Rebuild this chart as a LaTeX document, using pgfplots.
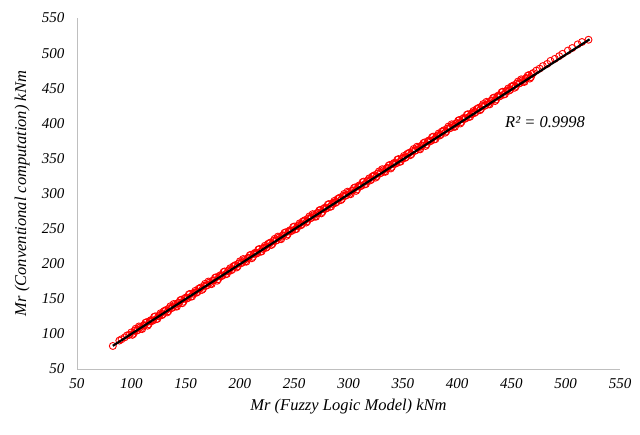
\documentclass[border=0pt]{standalone}
\usepackage{pgfplots}
\pgfplotsset{compat=1.18}
\usepackage{fontspec}
\setmainfont{Liberation Serif}
\definecolor{axgray}{HTML}{BFBFBF}
\begin{document}
\begin{tikzpicture}
\path[use as bounding box] (-77pt,-66pt) rectangle (563pt,369pt);
\begin{axis}[
  scale only axis, width=543pt, height=351pt,
  at={(0pt,0pt)}, anchor=south west,
  xmin=50, xmax=550, ymin=50, ymax=550,
  xtick={50,100,...,550}, ytick={50,100,...,550},
  axis x line*=bottom, axis y line*=left,
  axis line style={axgray, line width=0.8pt},
  major tick length=0pt,
  tick label style={font=\fontsize{15}{18}\selectfont\itshape},
  /pgf/number format/assume math mode=true,
  xticklabel style={yshift=-6pt},
  yticklabel style={xshift=-9pt},
  xlabel={Mr (Fuzzy Logic Model) kNm},
  ylabel={Mr (Conventional computation) kNm},
  label style={font=\fontsize{16.5}{19}\selectfont\itshape},
  xlabel style={at={(axis description cs:0.5,-0.108)}, anchor=center},
  ylabel style={at={(axis description cs:-0.101,0.5)}, anchor=center, rotate=0},
  clip=false,
  clip marker paths=true,
]
\addplot[only marks, mark=o, mark size=3.5pt, mark options={red, line width=0.9pt}] coordinates {
(83,82.8) (89,90.5) (91,92.4) (94,95.1) (96,97.8) (98,98.6)
(100,102.1) (102,100.2) (104,107.4) (106,105.4) (108,109.2) (110,106.9) (112,112.4) (114,116.7)
(116,113.8) (118,119.6) (120,119.1) (122,125.0) (124,121.4) (126,126.8) (128,126.6) (130,132.3)
(132,134.1) (134,132.2) (136,139.4) (138,137.4) (140,141.2) (142,138.9) (144,144.4) (146,148.7)
(148,145.8) (150,151.6) (152,151.1) (154,157.0) (156,153.4) (158,158.8) (160,158.6) (162,164.3)
(164,166.1) (166,164.2) (168,171.4) (170,169.4) (172,173.2) (174,170.9) (176,176.4) (178,180.7)
(180,177.8) (182,183.6) (184,183.1) (186,189.0) (188,185.4) (190,190.8) (192,190.6) (194,196.3)
(196,198.1) (198,196.2) (200,203.4) (202,201.4) (204,205.2) (206,202.9) (208,208.4) (210,212.7)
(212,209.8) (214,215.6) (216,215.1) (218,221.0) (220,217.4) (222,222.8) (224,222.6) (226,228.3)
(228,230.1) (230,228.2) (232,235.4) (234,233.4) (236,237.2) (238,234.9) (240,240.4) (242,244.7)
(244,241.8) (246,247.6) (248,247.1) (250,253.0) (252,249.4) (254,254.8) (256,254.6) (258,260.3)
(260,262.1) (262,260.2) (264,267.4) (266,265.4) (268,269.2) (270,266.9) (272,272.4) (274,276.7)
(276,273.8) (278,279.6) (280,279.1) (282,285.0) (284,281.4) (286,286.8) (288,286.6) (290,292.3)
(292,294.1) (294,292.2) (296,299.4) (298,297.4) (300,301.2) (302,298.9) (304,304.4) (306,308.7)
(308,305.8) (310,311.6) (312,311.1) (314,317.0) (316,313.4) (318,318.8) (320,318.6) (322,324.3)
(324,326.1) (326,324.2) (328,331.4) (330,329.4) (332,333.2) (334,330.9) (336,336.4) (338,340.7)
(340,337.8) (342,343.6) (344,343.1) (346,349.0) (348,345.4) (350,350.8) (352,350.6) (354,356.3)
(356,358.1) (358,356.2) (360,363.4) (362,361.4) (364,365.2) (366,362.9) (368,368.4) (370,372.7)
(372,369.8) (374,375.6) (376,375.1) (378,381.0) (380,377.4) (382,382.8) (384,382.6) (386,388.3)
(388,390.1) (390,388.2) (392,395.4) (394,393.4) (396,397.2) (398,394.9) (400,400.4) (402,404.7)
(404,401.8) (406,407.6) (408,407.1) (410,413.0) (412,409.4) (414,414.8) (416,414.6) (418,420.3)
(420,422.1) (422,420.2) (424,427.4) (426,425.4) (428,429.2) (430,426.9) (432,432.4) (434,436.7)
(436,433.8) (438,439.6) (440,439.1) (442,445.0) (444,441.4) (446,446.8) (448,446.6) (450,452.3)
(452,454.1) (454,452.2) (456,459.4) (458,457.4) (460,461.2) (462,458.9) (464,464.4) (466,468.7)
(468,465.8) (470,471.6)
(101,98.6) (103,104.5) (105,104.7) (107,110.6) (109,107.3) (111,111.9) (113,115.8) (115,111.7)
(117,118.1) (119,118.3) (121,124.2) (123,121.0) (125,125.2) (127,129.5) (129,127.8) (131,132.9)
(133,130.6) (135,136.5) (137,136.7) (139,142.6) (141,139.3) (143,143.9) (145,147.8) (147,143.7)
(149,150.1) (151,150.3) (153,156.2) (155,153.0) (157,157.2) (159,161.5) (161,159.8) (163,164.9)
(165,162.6) (167,168.5) (169,168.7) (171,174.6) (173,171.3) (175,175.9) (177,179.8) (179,175.7)
(181,182.1) (183,182.3) (185,188.2) (187,185.0) (189,189.2) (191,193.5) (193,191.8) (195,196.9)
(197,194.6) (199,200.5) (201,200.7) (203,206.6) (205,203.3) (207,207.9) (209,211.8) (211,207.7)
(213,214.1) (215,214.3) (217,220.2) (219,217.0) (221,221.2) (223,225.5) (225,223.8) (227,228.9)
(229,226.6) (231,232.5) (233,232.7) (235,238.6) (237,235.3) (239,239.9) (241,243.8) (243,239.7)
(245,246.1) (247,246.3) (249,252.2) (251,249.0) (253,253.2) (255,257.5) (257,255.8) (259,260.9)
(261,258.6) (263,264.5) (265,264.7) (267,270.6) (269,267.3) (271,271.9) (273,275.8) (275,271.7)
(277,278.1) (279,278.3) (281,284.2) (283,281.0) (285,285.2) (287,289.5) (289,287.8) (291,292.9)
(293,290.6) (295,296.5) (297,296.7) (299,302.6) (301,299.3) (303,303.9) (305,307.8) (307,303.7)
(309,310.1) (311,310.3) (313,316.2) (315,313.0) (317,317.2) (319,321.5) (321,319.8) (323,324.9)
(325,322.6) (327,328.5) (329,328.7) (331,334.6) (333,331.3) (335,335.9) (337,339.8) (339,335.7)
(341,342.1) (343,342.3) (345,348.2) (347,345.0) (349,349.2) (351,353.5) (353,351.8) (355,356.9)
(357,354.6) (359,360.5) (361,360.7) (363,366.6) (365,363.3) (367,367.9) (369,371.8) (371,367.7)
(373,374.1) (375,374.3) (377,380.2) (379,377.0) (381,381.2) (383,385.5) (385,383.8) (387,388.9)
(389,386.6) (391,392.5) (393,392.7) (395,398.6) (397,395.3) (399,399.9) (401,403.8) (403,399.7)
(405,406.1) (407,406.3) (409,412.2) (411,409.0) (413,413.2) (415,417.5) (417,415.8) (419,420.9)
(421,418.6) (423,424.5) (425,424.7) (427,430.6) (429,427.3) (431,431.9) (433,435.8) (435,431.7)
(437,438.1) (439,438.3) (441,444.2) (443,441.0) (445,445.2) (447,449.5) (449,447.8) (451,452.9)
(453,450.6) (455,456.5) (457,456.7) (459,462.6) (461,459.3) (463,463.9) (465,467.8) (467,463.7)
(469,470.1)
(473,475.2) (476,477.9) (479,481.5) (483,484.6) (486,488.9) (490,491.8) (494,495.7) (497,498.9)
(502,503.6) (506,507.2) (511,512.4) (515,515.8) (521,519.0)
};
\addplot[black, line width=2.2pt] coordinates {(83,83.0) (522,519.6)};
\node[anchor=east, font=\fontsize{16.5}{19}\selectfont\itshape] at (axis cs:521,402) {R² = 0.9998};
\end{axis}
\end{tikzpicture}
\end{document}
